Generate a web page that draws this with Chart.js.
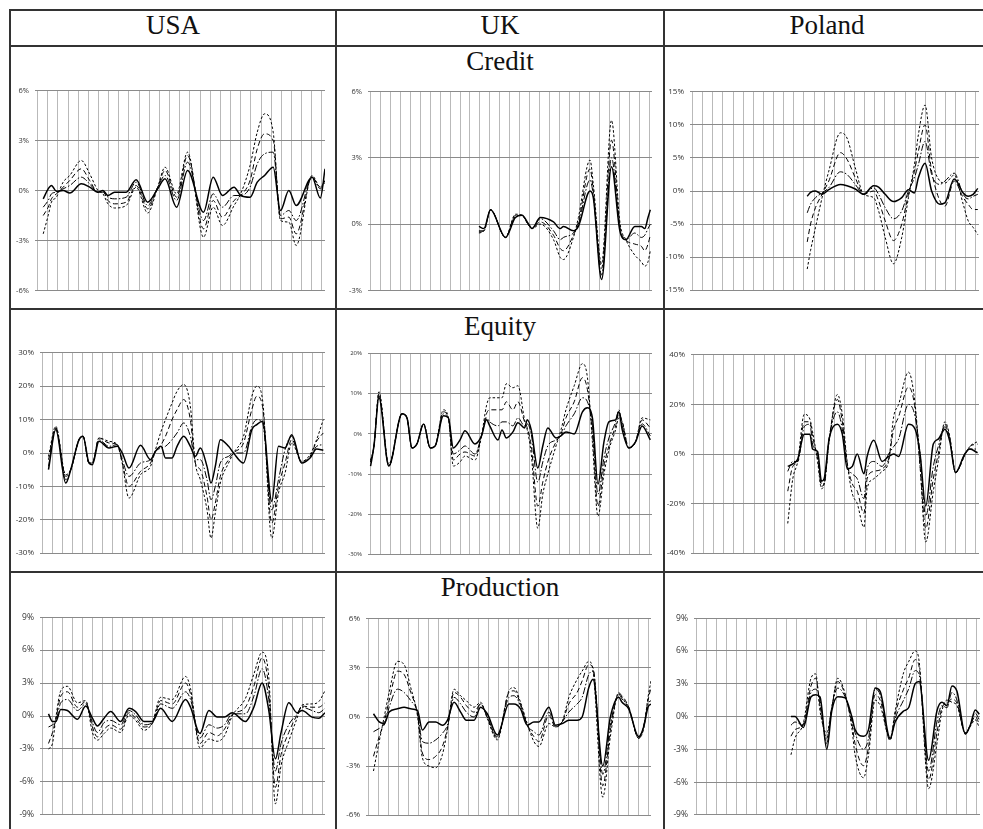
<!DOCTYPE html>
<html><head><meta charset="utf-8">
<script src="https://cdn.jsdelivr.net/npm/chart.js@4.4.0/dist/chart.umd.min.js"></script>
<style>
html,body{margin:0;padding:0;background:#fff;}
body{width:983px;height:829px;overflow:hidden;position:relative;}
.ln{position:absolute;background:#333;}
.ttl{position:absolute;font-family:"Liberation Serif","Times New Roman",serif;font-size:27px;line-height:27px;color:#111;text-align:center;white-space:nowrap;}
canvas{position:absolute;}
</style></head><body>
<div class="ln" style="left:9px;top:9px;width:992px;height:2px"></div>
<div class="ln" style="left:9px;top:45px;width:992px;height:2px"></div>
<div class="ln" style="left:9px;top:308px;width:992px;height:2px"></div>
<div class="ln" style="left:9px;top:571px;width:992px;height:2px"></div>
<div class="ln" style="left:9px;top:9px;width:2px;height:830px"></div>
<div class="ln" style="left:335px;top:9px;width:2px;height:830px"></div>
<div class="ln" style="left:663px;top:9px;width:2px;height:830px"></div>
<div class="ttl" style="left:10px;width:326px;top:12px">USA</div>
<div class="ttl" style="left:336px;width:328px;top:12px">UK</div>
<div class="ttl" style="left:664px;width:326px;top:12px">Poland</div>
<div class="ttl" style="left:336px;width:328px;top:48px">Credit</div>
<div class="ttl" style="left:336px;width:328px;top:313px">Equity</div>
<div class="ttl" style="left:336px;width:328px;top:574px">Production</div>
<script>
// vertical grid positions (years from start of sample)
const gridYears = [0,1,2,3,4,5,6,7,8,9,10,11,12,13,14,15,16,17,18,19,20,21,22,23,24,25,26,27,28];

// y tick labels (percent)
const usCreditTicks = [-6,-3,0,3,6];
const ukCreditTicks = [-3,0,3,6];
const plCreditTicks = [-15,-10,-5,0,5,10,15];
const usEquityTicks = [-30,-20,-10,0,10,20,30];
const ukEquityTicks = [-30,-20,-10,0,10,20];
const plEquityTicks = [-40,-20,0,20,40];
const usProdTicks = [-9,-6,-3,0,3,6,9];
const ukProdTicks = [-6,-3,0,3,6];
const plProdTicks = [-9,-6,-3,0,3,6,9];

// ---- USA credit ----
const usCreditX  = [0.56,1.05,1.37,1.86,2.52,3.17,4.31,5.13,5.95,6.44,6.93,7.58,8.73,9.71,10.85,11.83,12.55,13.69,14.77,16.34,17.29,18.2,19.35,20.0,20.92,21.63,22.35,23.2,23.92,24.74,25.46,27.03,27.84,28.3];
const usCreditS  = [-0.5,0.1,0.3,-0.05,0.0,-0.15,0.4,0.2,-0.1,0.0,-0.3,-0.1,-0.1,0.65,-0.7,0.1,0.7,-1.0,1.2,-1.3,0.8,-0.3,0.2,-0.3,-0.4,0.5,0.9,1.4,-1.2,0.0,-0.9,0.8,-0.45,1.3];
const usCreditDD = [-1.0,-0.6,-0.2,-0.1,0.1,0.3,0.8,0.4,-0.1,-0.1,-0.4,-0.5,-0.4,0.5,-0.9,0.2,0.9,-0.6,1.7,-1.8,-0.2,-1.0,-0.3,-0.3,0.2,1.6,2.2,2.3,-1.5,-1.2,-1.8,0.8,0.1,0.5];
const usCreditD  = [-1.5,-1.0,-0.5,-0.2,0.2,0.6,1.3,0.6,-0.1,-0.05,-0.6,-0.8,-0.7,0.3,-1.1,0.2,1.2,-0.4,2.1,-2.3,-0.6,-1.6,-0.6,-0.3,0.6,2.5,3.4,3.0,-1.7,-1.6,-2.6,0.8,0.2,0.6];
const usCreditSD = [-2.6,-1.5,-0.7,-0.4,0.5,0.9,1.8,1.0,0.0,-0.2,-0.8,-1.05,-0.9,0.2,-1.35,0.2,1.4,-0.2,2.3,-2.8,-1.0,-2.1,-0.9,-0.2,1.5,3.5,4.6,3.5,-1.8,-1.9,-3.3,0.9,0.2,0.6];

// ---- UK credit ----
const ukCreditX  = [10.9,11.4,12.07,13.57,14.57,15.23,15.9,16.23,17.07,18.4,19.07,19.4,20.4,20.9,22.07,22.4,23.23,24.23,25.07,25.67,26.57,27.23,27.57,27.9,28.13];
const ukCreditS  = [-0.1,-0.2,0.65,-0.6,0.3,0.4,0.0,-0.2,0.3,0.1,-0.2,-0.1,-0.3,-0.1,1.5,1.2,-2.5,2.6,-0.3,-0.7,-0.1,-0.1,-0.2,0.3,0.65];
const ukCreditDD = [-0.3,-0.3,0.65,-0.6,0.35,0.4,-0.05,-0.2,0.25,-0.3,-0.7,-0.6,-0.4,0.0,2.0,1.3,-2.3,3.0,-0.2,-0.7,-0.4,-0.6,-0.5,-0.2,0.0];
const ukCreditD  = [-0.35,-0.3,0.65,-0.6,0.4,0.4,-0.05,-0.2,0.1,-0.5,-1.1,-1.2,-0.5,0.1,2.5,1.5,-2.0,3.8,-0.1,-0.7,-0.9,-1.0,-1.2,-0.9,-0.5];
const ukCreditSD = [-0.4,-0.3,0.65,-0.6,0.45,0.4,-0.05,-0.2,0.0,-0.7,-1.5,-1.6,-0.6,0.3,2.9,1.8,-1.8,4.7,0.1,-0.7,-1.4,-1.7,-1.9,-1.7,-1.2];

// ---- Poland credit ----
const plCreditX  = [11.33,11.66,12.15,12.8,13.46,14.61,15.26,16.08,16.9,17.89,18.38,19.03,19.85,20.67,21.33,21.92,22.31,22.97,23.62,24.44,24.93,25.85,26.74,27.23,27.72,28.18];
const plCreditS  = [-0.8,-0.2,0.0,-0.5,0.2,1.0,0.8,0.3,-0.5,0.8,0.6,-0.5,-1.6,-1.0,0.2,-0.3,2.0,4.2,0.0,-2.0,-1.8,1.8,-0.3,-0.8,-0.5,0.4];
const plCreditDD = [-3.3,-2.0,-1.0,-0.3,0.5,2.9,2.5,1.0,-0.5,0.5,-0.5,-2.5,-4.2,-3.0,0.0,2.0,4.0,7.5,2.5,1.0,1.5,2.7,-0.5,-1.2,-0.8,-0.5];
const plCreditD  = [-7.7,-5.0,-2.5,-0.5,1.5,5.8,4.8,2.0,-0.5,0.0,-1.5,-4.5,-7.5,-5.0,-0.5,3.0,6.0,10.0,3.0,-1.5,-2.3,1.5,-1.0,-2.0,-2.8,-2.8];
const plCreditSD = [-11.8,-9.0,-5.5,-1.0,3.0,8.8,8.0,3.5,-0.5,-1.0,-3.0,-7.0,-11.0,-7.0,-1.0,4.0,8.5,13.0,5.0,1.5,1.2,2.4,-2.0,-4.5,-5.5,-6.6];

// ---- USA equity ----
const usEquityX  = [0.6,1.33,2.33,2.83,3.66,4.06,4.66,4.99,5.66,6.66,7.49,7.99,8.66,9.82,10.82,11.32,11.88,12.32,12.98,13.48,14.15,14.81,15.31,15.81,16.48,16.88,17.31,17.81,18.64,19.14,20.14,20.97,21.47,22.04,22.97,23.64,24.3,24.97,25.96,26.8,27.46,28.13];
const usEquityS  = [-5,7,-9,-5,4,5,-3,-3.5,3.5,1.5,2,0,-4.5,2.3,-2,0.5,2,-1.5,-1.5,2,5,2,-1,1.5,-4,-9,-4,4,2,0,-3,7,8.5,9.5,-14.5,2,1.5,5.5,-3,-1.5,1.2,0.8];
const usEquityDD = [-4,7.5,-8,-5,4,5,-3,-3,4,2,2.5,-2,-7,-3,-2,0.5,1.5,2,4,6,9,5,-2,-2,-8,-14,-10,-3,-1,0,0,8,10,9,-17,-8,1,5,-3,-1.5,2,2.5];
const usEquityD  = [-2,7.5,-7,-5,4,5,-3,-3,4.5,3,2.5,-3,-10,-5.5,-3,0.5,2.5,5,10,13,16,10,-3,-5,-13,-20,-15,-7,-2,0,3,13,17,14,-21,-10,-3,4,-2.5,-1,3.5,6];
const usEquitySD = [-1,8,-6.5,-5,4,5,-3,-3,4.5,3.5,2.5,-3,-13.5,-6.5,-4,1,6.5,10,15,18.5,20.5,14,-3,-8,-17,-25.5,-18,-9,-3,0,5,17,20,16,-25.5,-12,-6,3,-2.5,-0.5,4,10];

// ---- UK equity ----
const ukEquityX  = [0.01,0.35,0.85,1.84,3.17,3.67,4.17,4.67,5.34,6.0,6.5,7.33,7.83,8.33,9.0,9.5,10.5,11.16,11.66,11.99,12.82,13.22,13.66,14.32,14.82,15.49,15.76,16.16,16.82,17.32,17.82,18.65,19.15,19.65,20.48,21.31,21.81,22.31,22.87,23.47,23.97,24.64,24.97,25.31,25.97,26.64,27.31,28.13];
const ukEquityS  = [-8,-3,9,-8,5,4,-3.5,-2.5,2.5,-3.5,-3,4.5,4,-3.5,-1.5,0.8,-2.5,-0.5,3.5,2,-1.5,1,-1,0.5,2.8,1.5,3.5,1,-8.5,-3,1.5,-1,-0.5,0.5,0,5.5,6.5,4,-12.5,-2,3,3.5,5.5,1,-3.5,-2,2,-1.5];
const ukEquityDD = [-7,-3,9.5,-8,5,4,-3.5,-2.5,2.5,-3.5,-3,5,4,-5,-4,-3,-5,-0.5,4,3,2,3,3,2,4,2,2.5,0,-12,-7,-3,-1.5,-0.5,2,5,9,8,2,-15,-6,-1,3,6,2,-3.5,-2,2.5,-0.5];
const ukEquityD  = [-7,-3,10,-8,5,4,-3.5,-2.5,2.5,-3.5,-3,5.5,4,-6.5,-5,-4.5,-5.5,-0.5,5,6,6,6,8,6,8,3,1.5,-3,-18,-12,-7,-2,0,4,8,14,11,0,-18,-8,-3,2,5,3,-3.5,-2,3.5,1.5];
const ukEquitySD = [-6.5,-3,10.5,-7.5,5,4,-3.5,-2.5,2.5,-3.5,-3,6,4,-8,-7,-5.5,-6.5,-0.5,7,9,9,9,12.5,11.5,12,3.5,1,-5,-23.5,-15,-10,-3,1,6,12,17.5,14,-2,-20.5,-10,-4,1,4,3,-3.5,-2,4,3.5];

// ---- Poland equity ----
const plEquityX  = [9.34,9.84,10.33,10.98,11.54,11.8,12.3,12.69,12.95,13.44,14.26,14.75,15.25,15.74,16.23,16.89,17.21,17.87,18.69,19.34,19.84,20.33,21.31,21.97,22.46,23.02,23.77,24.26,24.92,25.41,25.97,26.89,27.38,28.16];
const plEquityS  = [-5,-4,-2,8,8,2,1,-11,-10,6,12,8,-6,-5,0,-8,-1,5.5,-3,-1,0,-1,12,10,0,-21,4,6,10,5,-7.5,0,2,0.5];
const plEquityDD = [-7,-3,-3,11,12,4,0,-12,-12,6,17,10,-5,-8,-10,-18,-6,-3,-5,0,3,6,20,15,0,-25,-5,3,11,6,-7.5,0,2,2];
const plEquityD  = [-15,-5,-3,13,13,7,-2,-13,-12,6,22,13,-4,-12,-15,-24,-10,-7,-6,-2,10,15,27,18,-5,-30,-10,0,12,6,-7.5,-0.5,3,4];
const plEquitySD = [-28,-10,-3,16,14,9,-3,-14,-12,5,24,16,-4,-16,-20,-29.5,-14,-10,-7,-3,15,20,33,20,-5,-35.5,-15,-3,13,7,-7.5,-0.5,3,5];

// ---- USA production ----
const usProdX  = [0.6,1.0,1.33,1.83,2.5,3.5,4.33,5.0,5.5,6.17,6.83,7.83,8.67,9.33,10.17,11.0,11.83,13.0,14.33,14.83,15.77,16.67,17.5,18.23,19.0,20.33,21.17,22.0,22.67,23.33,23.9,24.67,25.5,26.0,27.0,27.67,28.3];
const usProdS  = [0.2,-0.5,-0.5,0.6,0.5,-0.3,0.9,-0.2,-0.9,-0.2,0.4,-0.5,0.7,0.4,-0.5,-0.5,0.7,-0.5,1.5,0.8,-1.6,0.5,-0.1,-0.1,0.3,-0.5,0.8,3.0,0.5,-3.9,-1.5,1.2,0.3,0.5,-0.1,-0.2,0.3];
const usProdDD = [-1,-0.8,-0.5,1.2,1.5,0.5,1.1,-0.6,-1.5,-0.6,-0.4,-0.8,0.5,0.1,-0.8,-0.6,1.1,0.7,2.2,1.5,-2.0,-0.8,-1.1,-0.8,0.2,0.2,1.8,4.3,1.5,-5.0,-2.5,-0.8,0.2,0.8,0.5,0.3,0.7];
const usProdD  = [-2.5,-1.5,-0.3,1.8,2.2,0.8,1.3,-1,-1.9,-1.2,-0.8,-1.2,0.3,-0.2,-1.0,-0.7,1.4,1.1,3.0,2.0,-2.5,-1.5,-1.8,-1.2,0.1,0.8,2.7,5.3,2.5,-6.5,-3.5,-1.5,0.1,0.9,0.8,0.8,1.2];
const usProdSD = [-3,-2.5,-0.2,2.3,2.7,1.2,1.4,-1.5,-2.2,-1.6,-1.1,-1.5,0.1,-0.4,-1.3,-0.6,1.7,1.5,3.6,2.5,-2.9,-2.1,-2.3,-1.8,0,1.6,3.8,5.8,3.5,-8.0,-4.5,-2.3,-0.2,1.0,1.1,1.3,2.3];

// ---- UK production ----
const ukProdX  = [0.5,1.07,1.57,2.07,2.9,3.57,4.23,4.9,5.4,6.07,6.73,7.4,7.9,8.57,9.23,9.8,10.57,11.23,11.9,12.9,14.07,14.57,15.23,15.9,16.57,17.07,18.07,18.73,19.4,20.07,20.9,21.4,22.07,22.5,23.47,24.23,25.07,25.4,26.07,27.07,27.57,28.0,28.3];
const ukProdS  = [0.2,-0.3,-0.4,0.3,0.5,0.6,0.5,0.4,-0.8,-0.3,-0.3,-0.5,-0.2,0.9,0.3,-0.2,-0.2,0.6,0.2,-1.1,0.8,0.8,0.5,-0.5,-0.3,-0.3,0.6,-0.5,-0.4,-0.2,-0.2,0.0,1.8,2.3,-3.0,0.0,1.2,0.9,0.5,-1.2,-0.6,0.6,0.8];
const ukProdDD = [-0.9,-0.7,-0.5,0.6,1.7,1.5,1.0,0.3,-1.5,-1.6,-1.4,-1.0,-0.5,1.2,0.8,0.3,0.0,0.8,0.0,-1.2,1.2,1.3,0.7,-0.5,-0.9,-1.1,0.3,-0.6,-0.3,0.3,0.8,1.2,2.6,2.8,-3.5,-0.5,1.4,1.1,0.6,-1.3,-0.5,0.8,1.0];
const ukProdD  = [-2.4,-1.2,-0.3,1.0,2.8,2.6,1.5,0.2,-2.2,-2.6,-2.4,-1.8,-0.7,1.5,1.2,0.7,0.3,0.8,0.0,-1.3,1.5,1.6,0.8,-0.5,-1.2,-1.5,0.1,-0.6,-0.3,0.8,1.5,2.2,3.2,3.0,-4.2,-0.8,1.4,1.3,0.6,-1.3,-0.6,1.0,1.8];
const ukProdSD = [-3.3,-1.5,0.0,1.5,3.4,3.2,1.8,0.1,-2.5,-3.0,-3.1,-2.3,-0.8,1.7,1.3,1.0,0.6,0.9,-0.1,-1.4,1.6,1.8,0.9,-0.4,-1.5,-1.8,-0.4,-0.6,-0.3,1.2,2.3,2.8,3.4,2.8,-4.9,-1.2,1.5,1.2,0.5,-1.3,-0.7,1.2,2.2];

// ---- Poland production ----
const plProdX  = [9.43,9.83,10.67,11.43,11.9,12.33,13.0,13.5,14.1,14.83,15.5,15.83,16.67,17.17,17.83,18.33,19.33,19.83,20.67,21.17,21.83,22.23,23.17,24.0,24.5,25.0,25.5,26.0,26.83,27.33,27.83,28.23];
const plProdS  = [0.0,0.0,-1.0,1.8,2.0,1.8,-3.0,0.5,1.8,1.7,0.0,-1.2,-1.8,-1.2,2.6,2.3,-2.0,-0.5,0.5,0.8,3.0,3.2,-4.0,0.5,1.3,1.0,2.8,2.3,-1.6,-0.8,0.6,0.2];
const plProdDD = [-0.8,-0.5,-0.8,2.2,2.5,1.5,-2.5,0.8,2.6,1.8,-0.3,-1.5,-3.0,-2.0,2.5,2.0,-2.1,-0.2,1.5,2.5,4.2,3.8,-5.0,-0.5,1.0,0.8,2.2,1.5,-1.6,-0.8,0.3,-0.3];
const plProdD  = [-1.8,-1.2,-0.7,2.8,3.5,1.0,-2.0,0.8,3.2,2.0,-0.6,-2.5,-4.5,-2.8,2.0,1.5,-2.2,0.2,2.5,3.5,5.2,4.5,-5.8,-1.5,0.8,1.2,1.6,1.2,-1.5,-0.8,0.0,-0.7];
const plProdSD = [-3.5,-2.0,-0.6,3.5,3.9,0.5,-1.5,0.8,3.5,2.1,-1.0,-3.5,-5.6,-3.5,1.5,1.0,-2.0,0.5,4.0,5.0,6.0,5.0,-6.6,-2.5,0.5,1.5,1.3,1.0,-1.5,-0.9,-0.3,-1.0];

const seriesNames = ['Solid','Dash-dot','Dashed','Short dash'];
const seriesStyle = [
  {borderDash:[], borderWidth:1.5},
  {borderDash:[7,2,1.5,2], borderWidth:1},
  {borderDash:[5,3], borderWidth:1},
  {borderDash:[2.5,2], borderWidth:1}
];

// layout of each panel (pixel geometry of the plot area)
const panels = [
  {x:usCreditX, ys:[usCreditS,usCreditDD,usCreditD,usCreditSD], ticks:usCreditTicks, font:7.5, geo:{col:12,  L:35,  R:325, T:88,  B:293}},
  {x:ukCreditX, ys:[ukCreditS,ukCreditDD,ukCreditD,ukCreditSD], ticks:ukCreditTicks, font:7.5, geo:{col:338, L:368, R:652, T:89,  B:293}},
  {x:plCreditX, ys:[plCreditS,plCreditDD,plCreditD,plCreditSD], ticks:plCreditTicks, font:8,   geo:{col:666, L:690, R:979, T:89,  B:293}},
  {x:usEquityX, ys:[usEquityS,usEquityDD,usEquityD,usEquitySD], ticks:usEquityTicks, font:8,   geo:{col:12,  L:40,  R:325, T:350, B:556}},
  {x:ukEquityX, ys:[ukEquityS,ukEquityDD,ukEquityD,ukEquitySD], ticks:ukEquityTicks, font:6,   geo:{col:338, L:368, R:652, T:352, B:556}},
  {x:plEquityX, ys:[plEquityS,plEquityDD,plEquityD,plEquitySD], ticks:plEquityTicks, font:8,   geo:{col:666, L:691, R:979, T:352, B:556}},
  {x:usProdX,   ys:[usProdS,usProdDD,usProdD,usProdSD],         ticks:usProdTicks,   font:8.5, geo:{col:12,  L:40,  R:325, T:614, B:818}},
  {x:ukProdX,   ys:[ukProdS,ukProdDD,ukProdD,ukProdSD],         ticks:ukProdTicks,   font:8,   geo:{col:338, L:366, R:651, T:616, B:818}},
  {x:plProdX,   ys:[plProdS,plProdDD,plProdD,plProdSD],         ticks:plProdTicks,   font:8.5, geo:{col:666, L:694, R:980, T:615, B:818}}
];

panels.forEach(p => {
  const g = p.geo;
  const top = g.T - 8, bottom = g.B + 8;
  const w = g.R + 4 - g.col, h = bottom - top;
  const c = document.createElement('canvas');
  c.width = w; c.height = h;
  c.style.left = g.col + 'px'; c.style.top = top + 'px';
  c.style.width = w + 'px'; c.style.height = h + 'px';
  document.body.appendChild(c);
  new Chart(c, {
    type: 'line',
    data: {
      datasets: p.ys.map((ys, i) => Object.assign({
        label: seriesNames[i],
        data: p.x.map((x, j) => ({x: x, y: ys[j]})),
        borderColor: '#000',
        pointRadius: 0,
        fill: false,
        cubicInterpolationMode: 'monotone'
      }, seriesStyle[i]))
    },
    options: {
      responsive: false, animation: false, devicePixelRatio: 1, events: [],
      layout: {padding: {top: 8, bottom: 8, left: 0, right: 4}},
      plugins: {legend: {display: false}, tooltip: {enabled: false}},
      scales: {
        x: {
          type: 'linear', min: -0.25, max: 28.3,
          afterBuildTicks: s => { s.ticks = gridYears.map(v => ({value: v})); },
          ticks: {display: false, autoSkip: false},
          grid: {color: '#b9b9b9', lineWidth: 1, drawTicks: false},
          border: {display: false}
        },
        y: {
          min: p.ticks[0], max: p.ticks[p.ticks.length - 1],
          afterBuildTicks: s => { s.ticks = p.ticks.map(v => ({value: v})); },
          afterFit: s => { s.width = g.L - g.col; },
          ticks: {callback: v => v + '%', font: {family: '"Open Sans", sans-serif', size: p.font}, color: '#333', padding: 6, autoSkip: false},
          grid: {color: '#8a8a8a', lineWidth: 1, drawTicks: false},
          border: {display: false}
        }
      }
    }
  });
});
</script>
</body></html>
